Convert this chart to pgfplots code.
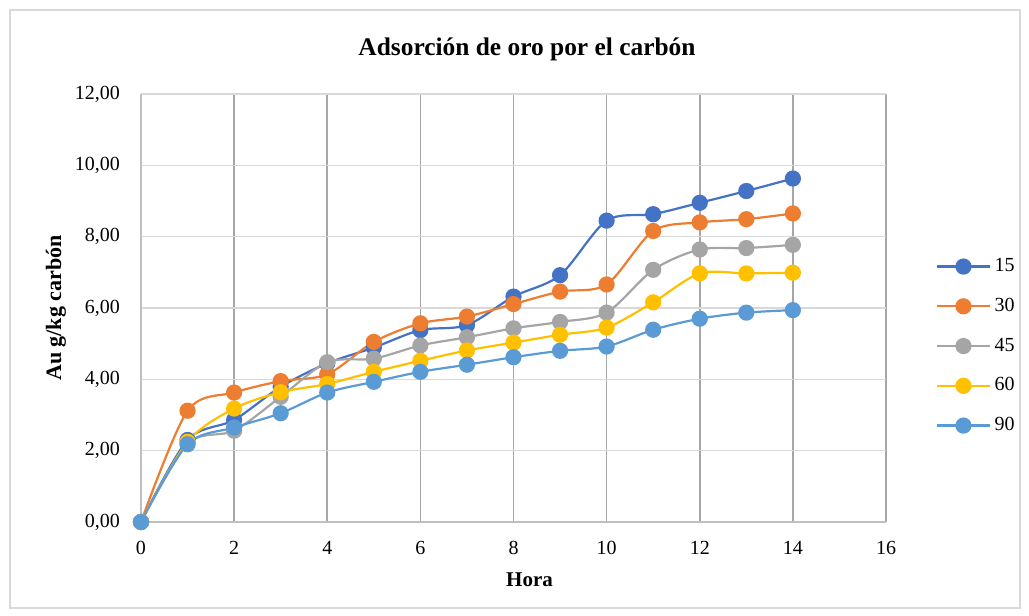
\documentclass[border=0pt]{standalone}
\usepackage{fontspec}
\setmainfont{Liberation Serif}
\usepackage{pgfplots}
\pgfplotsset{compat=1.18}
\definecolor{s15}{HTML}{4472C4}
\definecolor{s30}{HTML}{ED7D31}
\definecolor{s45}{HTML}{A5A5A5}
\definecolor{s60}{HTML}{FFC000}
\definecolor{s90}{HTML}{5B9BD5}
\definecolor{vgrid}{HTML}{A6A6A6}
\definecolor{hgrid}{HTML}{D9D9D9}
\definecolor{axline}{HTML}{BFBFBF}
\begin{document}
\begin{tikzpicture}
\useasboundingbox (-70.5pt,-47pt) rectangle (444pt,261pt);
\draw[color=hgrid, line width=0.75pt] (-65.5pt,-43pt) rectangle (439.5pt,256pt);
\node[font=\bfseries\fontsize{12.7}{15}\selectfont] at (193pt,236.5pt) {Adsorción de oro por el carbón};
\begin{axis}[
  at={(0,0)}, anchor=south west,
  scale only axis, width=372.5pt, height=214pt,
  xmin=0, xmax=16, ymin=0, ymax=12,
  xtick={0,2,...,16}, ytick={0,2,...,12},
  axis x line=bottom, axis y line=left,
  axis line style={color=axline, line width=0.75pt, -},
  major tick length=0pt,
  grid=major,
  x grid style={color=vgrid, line width=0.75pt},
  y grid style={color=hgrid, line width=0.75pt},
  clip=false,
  font=\fontsize{10}{12}\selectfont,
  /pgf/number format/assume math mode=true,
  yticklabel style={/pgf/number format/fixed, /pgf/number format/fixed zerofill, /pgf/number format/precision=2, /pgf/number format/use comma, anchor=east, xshift=-7pt},
  xticklabel style={anchor=center, yshift=-13pt},
  xlabel={Hora}, ylabel={Au g/kg carbón},
  xlabel style={font=\bfseries\fontsize{10.5}{12}\selectfont, at={(rel axis cs:0.5,0)}, anchor=center, yshift=-29pt, xshift=8pt},
  ylabel style={font=\bfseries\fontsize{11}{13}\selectfont, at={(rel axis cs:0,0.5)}, anchor=center, yshift=42.5pt},
  legend style={draw=none, fill=none, at={(rel axis cs:1.059,0.411)}, anchor=west, row sep=7.75pt, font=\fontsize{10}{12}\selectfont},
  legend cell align=left,
  legend image code/.code={\draw[#1, mark repeat=2, mark phase=2] plot coordinates {(0pt,0pt) (13pt,0pt) (26pt,0pt)};},
  every axis plot/.append style={smooth, tension=0.5, line width=1.1pt, mark=*, mark size=3.5pt},
]
\addplot[color=s15, mark options={fill=s15, draw=s15}] coordinates {
(0,0) (1,2.30) (2,2.86) (3,3.79) (4,4.45) (5,4.89) (6,5.38) (7,5.52) (8,6.32) (9,6.92) (10,8.45) (11,8.63) (12,8.95) (13,9.28) (14,9.63)};
\addlegendentry{15}
\addplot[color=s30, mark options={fill=s30, draw=s30}] coordinates {
(0,0) (1,3.12) (2,3.63) (3,3.95) (4,4.14) (5,5.05) (6,5.57) (7,5.76) (8,6.11) (9,6.46) (10,6.66) (11,8.16) (12,8.40) (13,8.49) (14,8.65)};
\addlegendentry{30}
\addplot[color=s45, mark options={fill=s45, draw=s45}] coordinates {
(0,0) (1,2.20) (2,2.56) (3,3.51) (4,4.48) (5,4.58) (6,4.95) (7,5.18) (8,5.43) (9,5.61) (10,5.87) (11,7.07) (12,7.64) (13,7.68) (14,7.77)};
\addlegendentry{45}
\addplot[color=s60, mark options={fill=s60, draw=s60}] coordinates {
(0,0) (1,2.25) (2,3.18) (3,3.64) (4,3.87) (5,4.21) (6,4.52) (7,4.81) (8,5.03) (9,5.25) (10,5.45) (11,6.16) (12,6.97) (13,6.97) (14,6.99)};
\addlegendentry{60}
\addplot[color=s90, mark options={fill=s90, draw=s90}] coordinates {
(0,0) (1,2.18) (2,2.65) (3,3.05) (4,3.63) (5,3.93) (6,4.21) (7,4.41) (8,4.62) (9,4.80) (10,4.92) (11,5.39) (12,5.70) (13,5.87) (14,5.94)};
\addlegendentry{90}
\end{axis}
\end{tikzpicture}
\end{document}
